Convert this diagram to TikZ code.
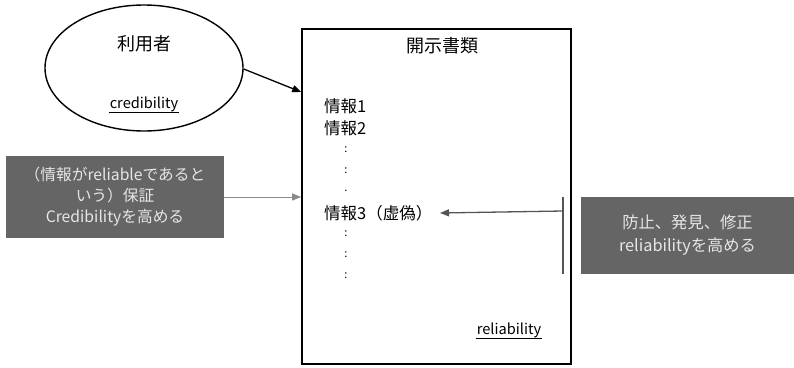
\documentclass[tikz,border=0pt]{standalone}
\usepackage{fontspec}
\setmainfont{Noto Sans CJK JP}
\usetikzlibrary{arrows.meta,shapes.geometric}
\definecolor{boxgray}{HTML}{656565}
\definecolor{boxtext}{HTML}{E6E6E6}
\definecolor{linegray}{HTML}{8A8A8A}
\definecolor{darkline}{HTML}{555555}
\tikzset{
  txt/.style={inner sep=0pt, font=\fontsize{16.5}{18}\selectfont},
  dotlabel/.style={inner sep=0pt, font=\fontsize{11}{12}\selectfont},
  graybox/.style={fill=boxgray, draw=none, text=boxtext, align=center, inner sep=0pt},
  ulabel/.style={inner sep=1pt, font=\fontsize{14.6}{16}\selectfont},
}
\begin{document}
\begin{tikzpicture}[x=1pt,y=-1pt]
\useasboundingbox (0,0) rectangle (794,367);
% ellipse
\node (user) [draw, line width=1.4pt, ellipse, minimum width=198, minimum height=126] at (144,68) {};
\node (usert) [txt, font=\fontsize{18}{20}\selectfont] at (144,44) {利用者};
\node (cred) [ulabel] at (144,104) {credibility};
\draw[line width=0.8pt] (cred.south west) -- (cred.south east);
% main box
\node (doc) [draw, line width=1.6pt, minimum width=269, minimum height=335, inner sep=0pt] at (436.5,196.5) {};
\node (doct) [txt, font=\fontsize{18}{20}\selectfont] at (442,46) {開示書類};
\node (i1) [txt, anchor=west] at (324,106) {情報1};
\node (i2) [txt, anchor=west] at (324,128) {情報2};
\node (d1) [dotlabel] at (346,150) {:};
\node (d2) [dotlabel] at (346,171) {:};
\node (d3) [dotlabel] at (346,191) {.};
\node (i3) [txt, anchor=west] at (324,213) {情報3（虚偽）};
\node (d4) [dotlabel] at (346,234) {:};
\node (d5) [dotlabel] at (346,255) {:};
\node (d6) [dotlabel] at (346,276) {:};
\node (rel) [ulabel] at (509,330) {reliability};
\draw[line width=0.8pt] (rel.south west) -- (rel.south east);
% left gray box
\node (lb) [graybox, minimum width=218, minimum height=82, font=\fontsize{15.7}{21}\selectfont] at (115,197) {（情報がreliableであると\\いう）保証\\Credibilityを高める};
% right gray box
\node (rb) [graybox, minimum width=213, minimum height=77, font=\fontsize{16.3}{23}\selectfont] at (687.5,235.5) {防止、発見、修正\\reliabilityを高める};
% arrows
\draw[line width=1.3pt, -{Triangle[length=9pt,width=7pt]}] (user.east) ++(0,1) coordinate (ua) (ua) -- (doc.west |- 0,92) coordinate (da);
\draw[linegray, line width=0.8pt, -{Triangle[length=9pt,width=7pt]}] (lb.east) -- (doc.west |- lb.east);
\coordinate (vt) at (563,197);
\coordinate (vb) at (563,274);
\draw[darkline, line width=1.3pt] (vt) -- (vb);
\coordinate (vm) at (563,211);
\draw[darkline, line width=1.3pt, -{Triangle[length=9pt,width=7pt]}] (vm) -- (i3.east -| 440,0);
\end{tikzpicture}
\end{document}
